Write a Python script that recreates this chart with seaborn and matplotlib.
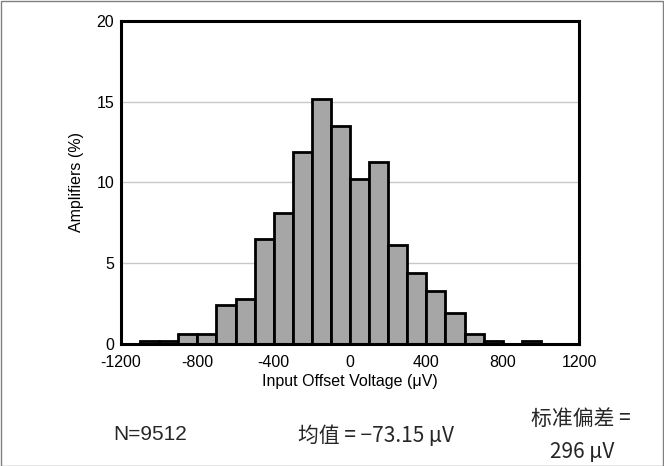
import matplotlib
matplotlib.use("Agg")
import matplotlib.pyplot as plt
import seaborn as sns
import numpy as np
import pandas as pd
from matplotlib.patches import Rectangle

# Data
bin_left = [-1100, -1000, -900, -800, -700, -600, -500, -400, -300, -200, -100,
            0, 100, 200, 300, 400, 500, 600, 700, 800, 900]
percent = [0.2, 0.2, 0.6, 0.6, 2.4, 2.8, 6.5, 8.1, 11.9, 15.2, 13.5,
           10.2, 11.3, 6.1, 4.4, 3.3, 1.9, 0.6, 0.2, 0.0, 0.2]
bin_width = 100
x_ticks = [-1200, -800, -400, 0, 400, 800, 1200]
y_ticks = [0, 5, 10, 15, 20]
x_label = "Input Offset Voltage (\u03bcV)"
y_label = "Amplifiers (%)"
note_n = "N=9512"
note_mean = "均值 = \u221273.15 \u03bcV"
note_std1 = "标准偏差 ="
note_std2 = "296 \u03bcV"

df = pd.DataFrame({"center": [b + bin_width / 2 for b in bin_left], "pct": percent})
edges = bin_left + [bin_left[-1] + bin_width]

sns.set_theme(style="white")
plt.rcParams['font.family'] = ['Liberation Sans', 'Noto Sans CJK SC', 'DejaVu Sans']

fig = plt.figure(figsize=(6.64, 4.66), dpi=100)
ax = fig.add_axes([121 / 664, 1 - 344 / 466, (579 - 121) / 664, (344 - 21) / 466])

sns.histplot(data=df, x="center", weights="pct", bins=edges, ax=ax,
             color="#a6a6a6", alpha=1, edgecolor="black", linewidth=2.0, zorder=3)

ax.set_xlim(-1200, 1200)
ax.set_ylim(0, 20)
ax.set_xticks(x_ticks)
ax.set_yticks(y_ticks)
ax.set_xticklabels([str(t) for t in x_ticks])
ax.tick_params(axis="both", length=0, labelsize=11.5, colors="black")
ax.tick_params(axis="x", pad=8)
ax.tick_params(axis="y", pad=5)
ax.yaxis.grid(True, color="#c8c8c8", linewidth=1, zorder=0)
ax.set_axisbelow(True)
for s in ax.spines.values():
    s.set_visible(True)
    s.set_color("black")
    s.set_linewidth(2.2)
    s.set_zorder(5)
ax.set_xlabel(x_label, fontsize=11.5, labelpad=3, color="black")
ax.set_ylabel(y_label, fontsize=11.5, labelpad=9, color="black")

fig.text(150 / 664, 1 - 435 / 466, note_n, fontsize=15, ha="center", va="center")
fig.text(376 / 664, 1 - 436 / 466, note_mean, fontsize=15, ha="center", va="center",
         family=['Noto Sans CJK SC', 'DejaVu Sans'])
fig.text(581 / 664, 1 - 419 / 466, note_std1, fontsize=15, ha="center", va="center",
         family=['Noto Sans CJK SC', 'DejaVu Sans'])
fig.text(582 / 664, 1 - 452 / 466, note_std2, fontsize=15, ha="center", va="center",
         family=['Noto Sans CJK SC', 'DejaVu Sans'])

fig.patches.append(Rectangle((0.5 / 664, 0.5 / 466), 1 - 1.5 / 664, 1 - 1.5 / 466,
                             transform=fig.transFigure, fill=False,
                             edgecolor="#808080", linewidth=1))

fig.savefig("out.png", dpi=100)
